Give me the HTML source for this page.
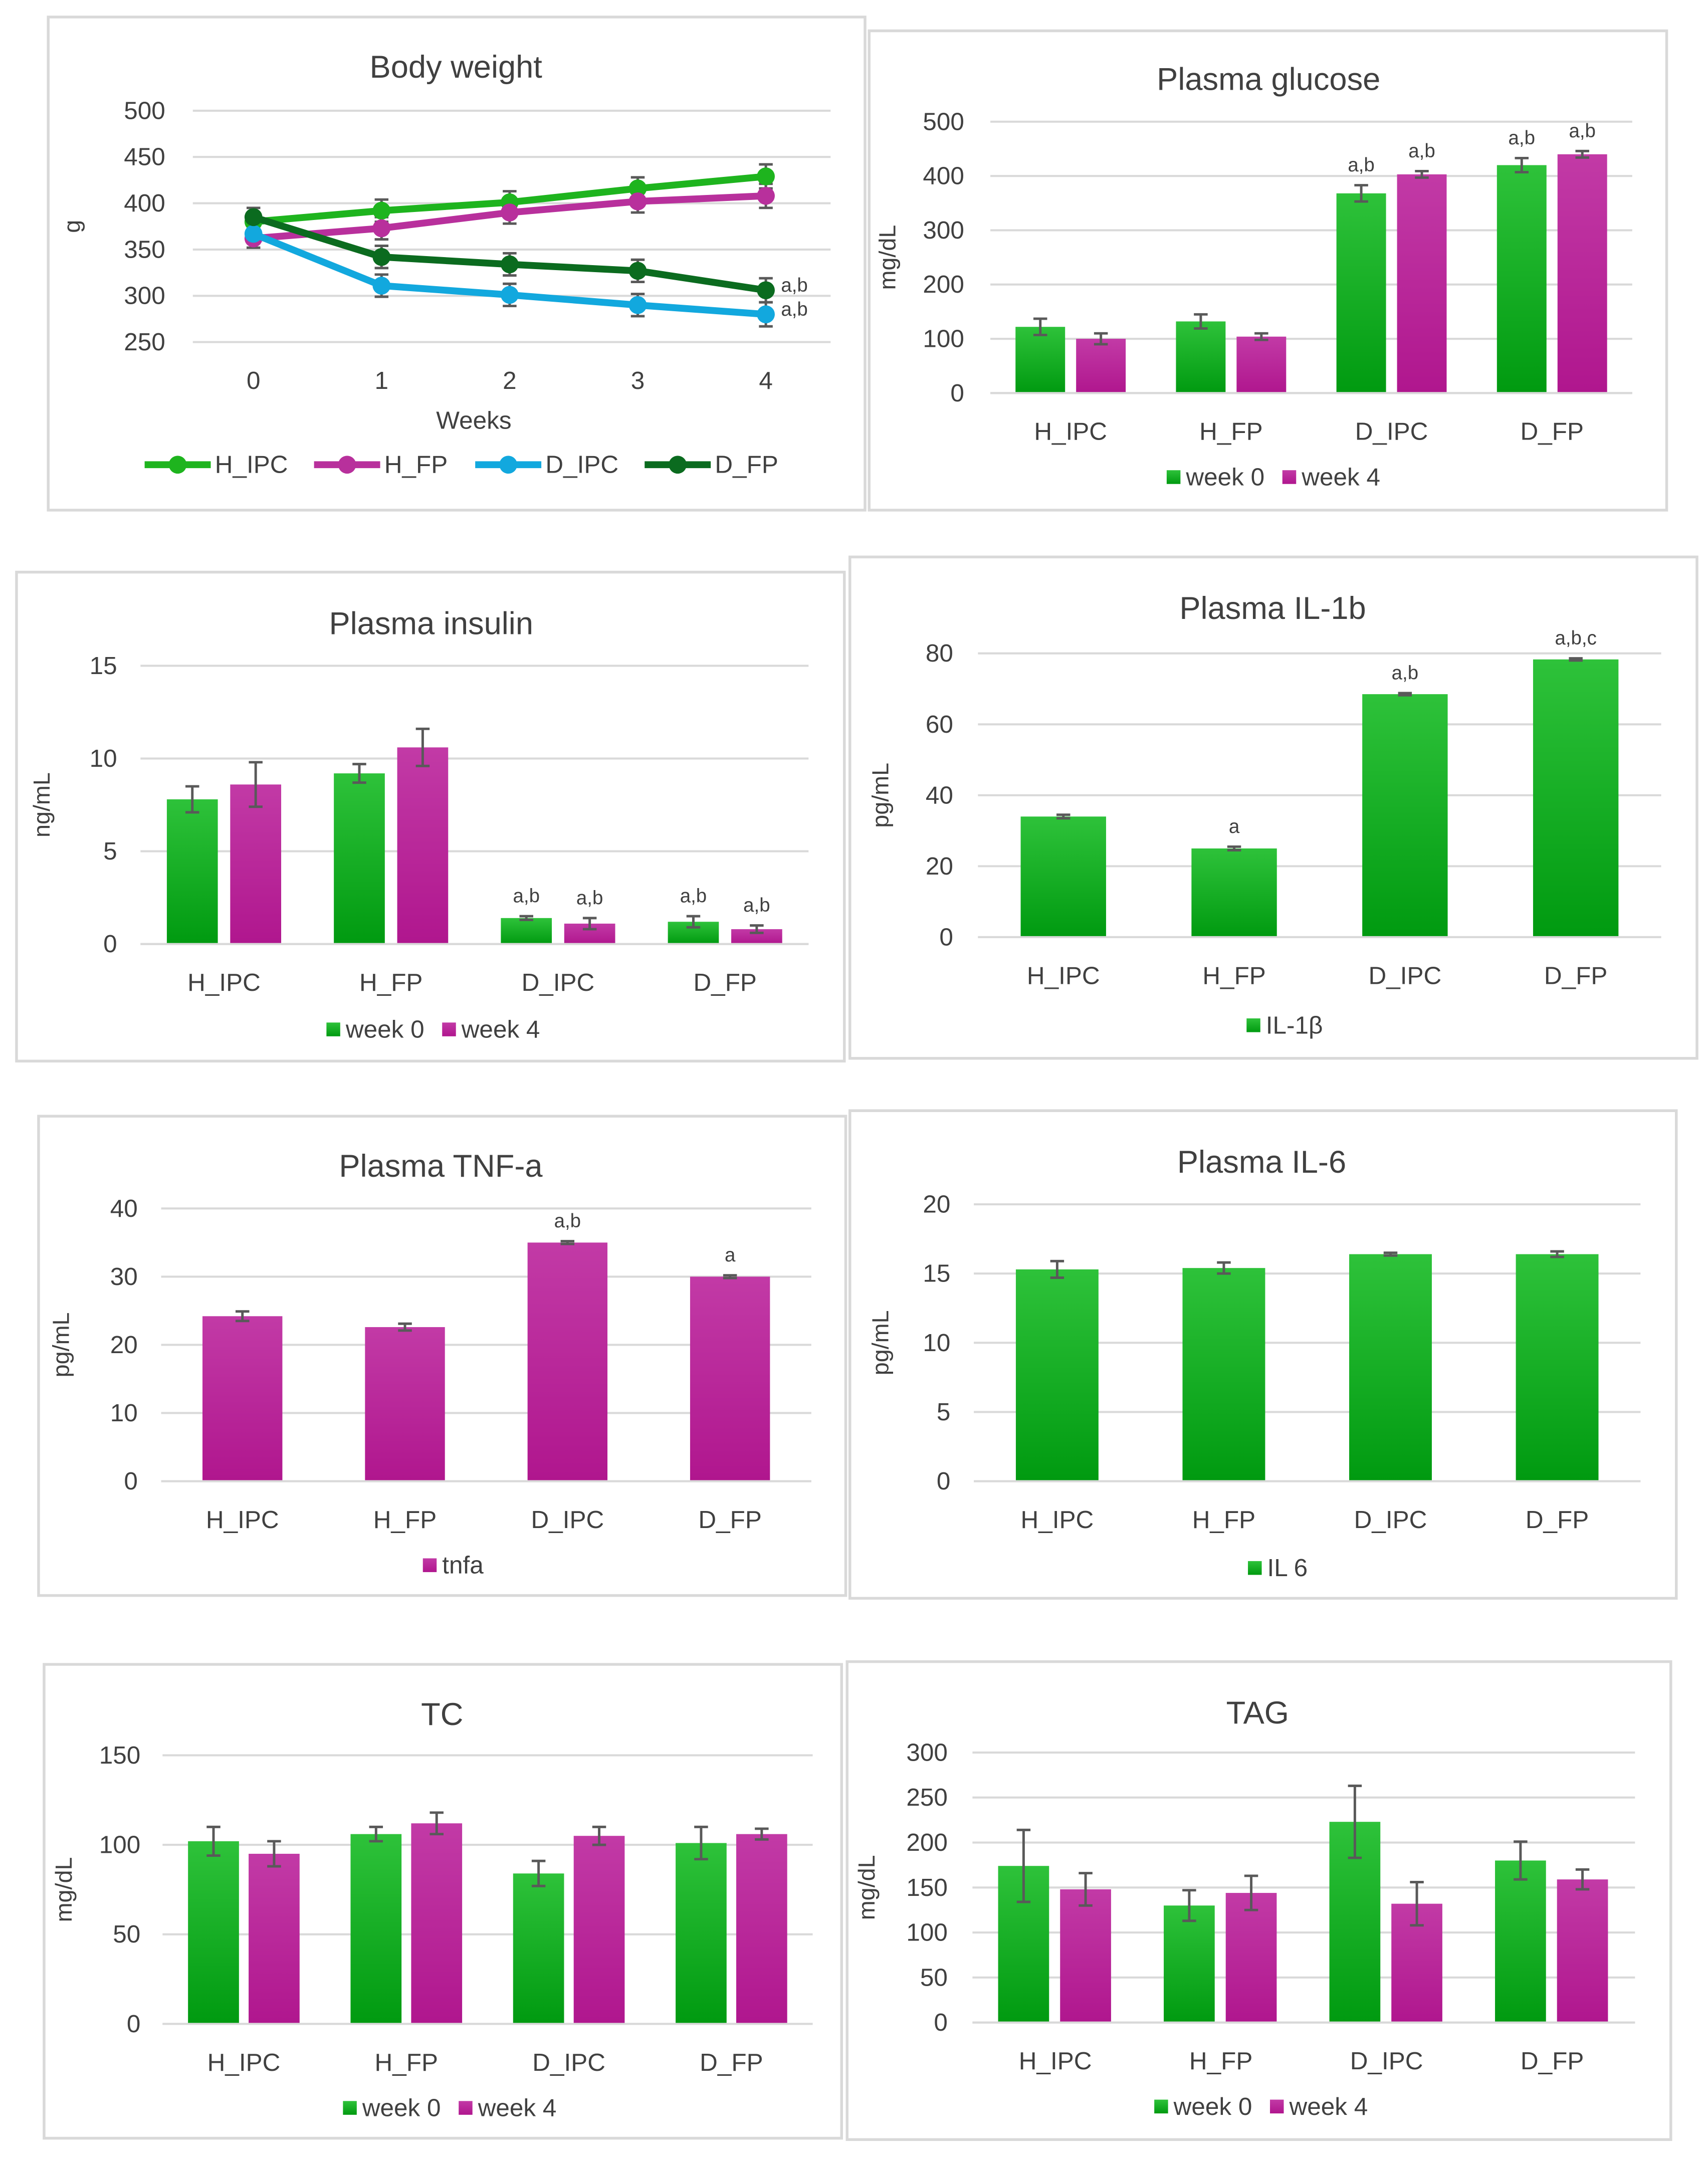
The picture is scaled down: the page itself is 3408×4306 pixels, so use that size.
<!DOCTYPE html>
<html><head><meta charset="utf-8"><style>
html,body{margin:0;padding:0;background:#fff}
svg{display:block}
text{font-family:"Liberation Sans",sans-serif;fill:#404040}
</style></head><body>
<svg id="fig" width="3408" height="4306" viewBox="0 0 1240 1566" xmlns="http://www.w3.org/2000/svg">
<defs>
<linearGradient id="gG" x1="0" y1="0" x2="0" y2="1"><stop offset="0" stop-color="#2ec23a"/><stop offset="1" stop-color="#009a10"/></linearGradient>
<linearGradient id="gM" x1="0" y1="0" x2="0" y2="1"><stop offset="0" stop-color="#c23aa6"/><stop offset="1" stop-color="#b0168e"/></linearGradient>
</defs>
</svg>
<script>
// Body weight data
const bwWeeks = ["0","1","2","3","4"];
const bwSeries = ["H_IPC","H_FP","D_IPC","D_FP"];
const bwH_IPC = [380,392,401,416,429];
const bwH_FP = [362,373,390,402,408];
const bwD_IPC = [367,311,301,290,280];
const bwD_FP = [385,342,334,327,306];
const bwErr = [10,12,12,12,13];
const bwTicks = [250,300,350,400,450,500];
// Bar charts data
const groups = ["H_IPC","H_FP","D_IPC","D_FP"];
const gluW0 = [122,132,368,420], gluW4 = [100,104,403,440];
const gluE0 = [15,13,15,13], gluE4 = [10,6,6,6];
const gluTicks = [0,100,200,300,400,500];
const gluLab0 = ["","","a,b","a,b"], gluLab4 = ["","","a,b","a,b"];
const insW0 = [7.8,9.2,1.4,1.2], insW4 = [8.6,10.6,1.1,0.8];
const insE0 = [0.7,0.5,0.1,0.3], insE4 = [1.2,1.0,0.3,0.2];
const insTicks = [0,5,10,15];
const insLab0 = ["","","a,b","a,b"], insLab4 = ["","","a,b","a,b"];
const il1Vals = [34,25,68.5,78.3], il1Err = [0.5,0.5,0.3,0.3];
const il1Ticks = [0,20,40,60,80];
const il1Lab = ["","a","a,b","a,b,c"];
const tnfVals = [24.2,22.6,35,30], tnfErr = [0.7,0.5,0.2,0.2];
const tnfTicks = [0,10,20,30,40];
const tnfLab = ["","","a,b","a"];
const il6Vals = [15.3,15.4,16.4,16.4], il6Err = [0.6,0.4,0.1,0.2];
const il6Ticks = [0,5,10,15,20];
const tcW0 = [102,106,84,101], tcW4 = [95,112,105,106];
const tcE0 = [8,4,7,9], tcE4 = [7,6,5,3];
const tcTicks = [0,50,100,150];
const tagW0 = [174,130,223,180], tagW4 = [148,144,132,159];
const tagE0 = [40,17,40,21], tagE4 = [18,19,24,11];
const tagTicks = [0,50,100,150,200,250,300];

const NS="http://www.w3.org/2000/svg";
const svg=document.getElementById('fig');
function mk(tag,attrs,parent,txt){const e=document.createElementNS(NS,tag);for(const k in attrs)e.setAttribute(k,attrs[k]);if(txt!==undefined)e.textContent=txt;(parent||svg).appendChild(e);return e;}

function panel(name,bx,by,bw,bh,title,tx,ty){
  const g=mk('g',{});
  
  
  const r=mk('rect',{x:bx,y:by,width:bw,height:bh,fill:'#fff',stroke:'#d9d9d9','stroke-width':2},g);
  
  
  const t=mk('text',{x:tx,y:ty,'font-size':23,'text-anchor':'middle',fill:'#262626'},g,title);
  
  
  return g;
}
function yAxis(g,ticks,x0,x1,yTop,yBot,lblX,ylabel,ylx){
  const mn=ticks[0],mx=ticks[ticks.length-1];
  const Y=v=>yBot-(v-mn)/(mx-mn)*(yBot-yTop);
  ticks.forEach(t=>{
    const l=mk('line',{x1:x0,x2:x1,y1:Y(t),y2:Y(t),stroke:'#d9d9d9','stroke-width':1.5},g);
    
    
    const tt=mk('text',{x:lblX,y:Y(t)+6,'font-size':18,'text-anchor':'end'},g,t);
    
    
  });
  const yl=mk('text',{x:ylx,y:(yTop+yBot)/2,'font-size':17,'text-anchor':'middle',transform:`rotate(-90 ${ylx} ${(yTop+yBot)/2})`,fill:'#262626'},g,ylabel);
  
  
  return Y;
}
function errBar(g,x,y1,y2){
  const e=mk('path',{d:`M${x},${y1}V${y2}M${x-5},${y1}H${x+5}M${x-5},${y2}H${x+5}`,stroke:'#595959','stroke-width':1.8,fill:'none'},g);
  
  
}
function legendSq(g,x,y,fill,label){
  const s=mk('rect',{x:x,y:y-10,width:10,height:10,fill:fill},g);
  
  
  const t=mk('text',{x:x+14,y:y+1,'font-size':18},g,label);
  
  
}
function barChart(o){
  const g=panel(o.name,o.bx,o.by,o.bw,o.bh,o.title,o.tx,o.ty);
  const Y=yAxis(g,o.ticks,o.x0,o.x1,o.yTop,o.yBot,o.lblX,o.ylabel,o.ylx);
  const step=(o.x1-o.x0)/groups.length;
  const X=i=>o.x0+step*(i+0.5);
  o.series.forEach((s,si)=>{
    s.vals.forEach((v,i)=>{
      const cx=X(i)+s.off;
      const b=mk('rect',{x:cx-o.bwid/2,y:Y(v),width:o.bwid,height:Y(o.ticks[0])-Y(v),fill:s.fill},g);
      
      
      const e=s.err[i];
      errBar(g,cx,Y(v+e),Y(v-e));
      if(s.lab&&s.lab[i]){
        const t=mk('text',{x:cx,y:Y(v+e)-10,'font-size':14,'text-anchor':'middle'},g,s.lab[i]);
        
        
      }
    });
  });
  const base=mk('line',{x1:o.x0,x2:o.x1,y1:o.yBot,y2:o.yBot,stroke:'#d9d9d9','stroke-width':1.5},g);
  
  
  groups.forEach((c,i)=>{
    const t=mk('text',{x:X(i),y:o.yBot+34,'font-size':18,'text-anchor':'middle'},g,c);
    
    
  });
  let lx=o.legX;
  o.series.forEach(s=>{legendSq(g,lx,o.legY,s.fill,s.legend);lx+=s.legend.length*9+30;});
}

// Body weight
(function(){
  const g=panel('body-weight-chart',35,12,593,358,'Body weight',331,56);
  const Y=yAxis(g,bwTicks,140,603,80,248,120,'g',58);
  const X=i=>184+i*93;
  bwWeeks.forEach((w,i)=>{
    const t=mk('text',{x:X(i),y:282,'font-size':18,'text-anchor':'middle'},g,w);
    
    
  });
  const xt=mk('text',{x:344,y:311,'font-size':18,'text-anchor':'middle'},g,'Weeks');
  
  
  const data=[bwH_IPC,bwH_FP,bwD_IPC,bwD_FP];
  const cols=['#1eb41e','#b8309c','#12a8de','#0b6b1f'];
  data.forEach((d,si)=>{
    d.forEach((v,i)=>errBar(g,X(i),Y(v+(si>=2?-bwErr[i]*0+bwErr[i]:bwErr[i])),Y(v-bwErr[i])));
  });
  data.forEach((d,si)=>{
    const p=mk('polyline',{points:d.map((v,i)=>X(i)+','+Y(v)).join(' '),fill:'none',stroke:cols[si],'stroke-width':5},g);
    
    
    d.forEach((v,i)=>{
      const c=mk('circle',{cx:X(i),cy:Y(v),r:6.5,fill:cols[si]},g);
      
      
    });
  });
  [[bwD_FP,'a,b'],[bwD_IPC,'a,b']].forEach(([d,l])=>{
    const t=mk('text',{x:567,y:Y(d[4])+1,'font-size':14},g,l);
    
    
  });
  const lx=[105,228,345,468];
  bwSeries.forEach((s,i)=>{
    const l=mk('line',{x1:lx[i],x2:lx[i]+48,y1:337,y2:337,stroke:cols[i],'stroke-width':5},g);
    
    
    mk('circle',{cx:lx[i]+24,cy:337,r:6.5,fill:cols[i]},g);
    const t=mk('text',{x:lx[i]+51,y:343,'font-size':18},g,s);
    
    
  });
})();

barChart({name:'plasma-glucose-chart',bx:631,by:22,bw:579,bh:348,title:'Plasma glucose',tx:921,ty:65,ticks:gluTicks,x0:719,x1:1185,yTop:88,yBot:285,lblX:700,ylabel:'mg/dL',ylx:650,bwid:36,
  series:[{key:'week0',vals:gluW0,err:gluE0,fill:'url(#gG)',off:-22,lab:gluLab0,legend:'week 0'},{key:'week4',vals:gluW4,err:gluE4,fill:'url(#gM)',off:22,lab:gluLab4,legend:'week 4'}],legX:847,legY:351});

barChart({name:'plasma-insulin-chart',bx:12,by:415,bw:601,bh:355,title:'Plasma insulin',tx:313,ty:460,ticks:insTicks,x0:102,x1:587,yTop:483,yBot:685,lblX:85,ylabel:'ng/mL',ylx:36,bwid:37,
  series:[{key:'week0',vals:insW0,err:insE0,fill:'url(#gG)',off:-23,lab:insLab0,legend:'week 0'},{key:'week4',vals:insW4,err:insE4,fill:'url(#gM)',off:23,lab:insLab4,legend:'week 4'}],legX:237,legY:752});

barChart({name:'plasma-il1b-chart',bx:617,by:404,bw:615,bh:364,title:'Plasma IL-1b',tx:924,ty:449,ticks:il1Ticks,x0:710,x1:1206,yTop:474,yBot:680,lblX:692,ylabel:'pg/mL',ylx:645,bwid:62,
  series:[{key:'il1b',vals:il1Vals,err:il1Err,fill:'url(#gG)',off:0,lab:il1Lab,legend:'IL-1β'}],legX:905,legY:749});

barChart({name:'plasma-tnfa-chart',bx:28,by:810,bw:586,bh:348,title:'Plasma TNF-a',tx:320,ty:854,ticks:tnfTicks,x0:117,x1:589,yTop:877,yBot:1075,lblX:100,ylabel:'pg/mL',ylx:50,bwid:58,
  series:[{key:'tnfa',vals:tnfVals,err:tnfErr,fill:'url(#gM)',off:0,lab:tnfLab,legend:'tnfa'}],legX:307,legY:1141});

barChart({name:'plasma-il6-chart',bx:617,by:806,bw:600,bh:354,title:'Plasma IL-6',tx:916,ty:851,ticks:il6Ticks,x0:707,x1:1191,yTop:874,yBot:1075,lblX:690,ylabel:'pg/mL',ylx:645,bwid:60,
  series:[{key:'il6',vals:il6Vals,err:il6Err,fill:'url(#gG)',off:0,legend:'IL 6'}],legX:906,legY:1143});

barChart({name:'tc-chart',bx:32,by:1208,bw:579,bh:344,title:'TC',tx:321,ty:1252,ticks:tcTicks,x0:118,x1:590,yTop:1274,yBot:1469,lblX:102,ylabel:'mg/dL',ylx:52,bwid:37,
  series:[{key:'week0',vals:tcW0,err:tcE0,fill:'url(#gG)',off:-22,legend:'week 0'},{key:'week4',vals:tcW4,err:tcE4,fill:'url(#gM)',off:22,legend:'week 4'}],legX:249,legY:1535});

barChart({name:'tag-chart',bx:615,by:1206,bw:598,bh:347,title:'TAG',tx:913,ty:1251,ticks:tagTicks,x0:706,x1:1187,yTop:1272,yBot:1468,lblX:688,ylabel:'mg/dL',ylx:635,bwid:37,
  series:[{key:'week0',vals:tagW0,err:tagE0,fill:'url(#gG)',off:-23,legend:'week 0'},{key:'week4',vals:tagW4,err:tagE4,fill:'url(#gM)',off:22,legend:'week 4'}],legX:838,legY:1534});
</script>
</body></html>
